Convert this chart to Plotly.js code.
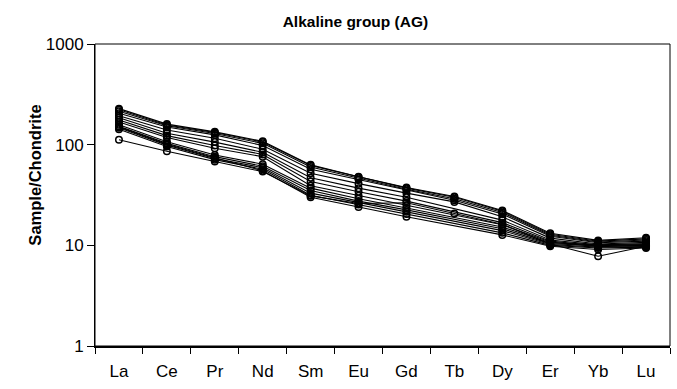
<!DOCTYPE html>
<html>
<head>
<meta charset="utf-8">
<script src="https://cdn.plot.ly/plotly-3.0.1.min.js"></script>
<style>
  html, body { margin: 0; padding: 0; background: #ffffff; }
  #chart { width: 677px; height: 389px; }
</style>
</head>
<body>
<div id="chart"></div>
<script>
// Rare earth elements, chondrite-normalised (null = not analysed)
const elements = ['La', 'Ce', 'Pr', 'Nd', 'Sm', 'Eu', 'Gd', 'Tb', 'Dy', 'Er', 'Yb', 'Lu'];

const ag01 = [228, 160, 134, 108, 63, 48, 37.5, 30.5, 22.2, 13.2, 11.2, 11.9];
const ag02 = [222, 157, 132, 106, 62, 47.5, 37, 30, 21.8, 12.9, 11.0, 11.6];
const ag03 = [215, 154, 129, 103, 60, 46.5, 36, 29, 21.2, 12.6, 10.8, 11.3];
const ag04 = [205, 150, 125, 98, 57, 45, 35, 28, 20.5, 12.3, 10.6, 11.0];
const ag05 = [194, 140, 116, 90, 52, 41, 33, 27, 19.2, 11.8, 10.3, 10.7];
const ag06 = [185, 130, 106, 84, 47, 37, 30, null, 17.8, 11.3, 10.1, 10.4];
const ag07 = [176, 123, 98, 80, 43, 34, 27.5, null, 16.8, 11.0, 9.9, 10.2];
const ag08 = [168, 118, 92, 76, 39, 31, 25, null, 16.0, 10.8, 9.7, 10.0];
const ag09 = [158, 107, 79, 64, 37, 29, 23.5, null, 15.2, 10.6, 10.1, 10.1];
const ag10 = [152, 103, 76, 61, 35, 27.5, 22.5, null, 14.6, 10.4, 9.9, 9.9];
const ag11 = [147, 99, 73, 59, 33, 26.5, 21.5, null, 14.0, 10.2, 9.6, 9.7];
const ag12 = [142, 96, 71, 57, 31.5, 25.5, 20.5, null, 13.3, 10.0, 9.4, 9.6];
const ag13 = [150, 101, 74, 55, 30, 24, 19.2, null, 12.7, 9.8, 9.1, 9.4];
const ag14 = [112, 86, 68, 54, 31, 26, 26.5, 20.7, 16.2, 10.3, 7.8, 9.8];

const samples = [ag01, ag02, ag03, ag04, ag05, ag06, ag07, ag08, ag09, ag10, ag11, ag12, ag13, ag14];

const sans = '"Liberation Sans", Arial, sans-serif';

const traces = samples.map(values => ({
  type: 'scatter',
  mode: 'lines+markers',
  x: elements,
  y: values,
  connectgaps: true,
  line: { color: '#000000', width: 1.1 },
  marker: { symbol: 'circle-open', size: 6.5, color: '#000000', line: { color: '#000000', width: 1.5 } },
  showlegend: false,
  hoverinfo: 'skip'
}));

const layout = {
  width: 677,
  height: 389,
  margin: { l: 95, r: 7, t: 44, b: 43 },
  paper_bgcolor: '#ffffff',
  plot_bgcolor: '#ffffff',
  font: { family: sans, color: '#000000', size: 17 },
  title: {
    text: '<b>Alkaline group (AG)</b>',
    font: { family: sans, size: 15.5, color: '#000000' },
    x: 0.525, xanchor: 'center',
    y: 1 - 22 / 389, yanchor: 'middle'
  },
  xaxis: {
    type: 'category',
    categoryorder: 'array',
    categoryarray: elements,
    range: [-0.5, elements.length - 0.5],
    tickson: 'boundaries',
    ticks: 'outside',
    ticklen: 6,
    tickwidth: 1,
    tickcolor: '#000000',
    ticklabelstandoff: 9,
    showline: true,
    linecolor: '#000000',
    linewidth: 2,
    showgrid: false,
    zeroline: false,
    tickfont: { family: sans, size: 17, color: '#000000' }
  },
  yaxis: {
    type: 'log',
    range: [0, 3],
    tickvals: [1, 10, 100, 1000],
    ticktext: ['1', '10', '100', '1000'],
    ticks: 'outside',
    ticklen: 7,
    tickwidth: 1,
    tickcolor: '#000000',
    showline: true,
    linecolor: '#000000',
    linewidth: 1,
    showgrid: false,
    zeroline: false,
    tickfont: { family: sans, size: 17, color: '#000000' }
  },
  shapes: [{
    type: 'rect', xref: 'x domain', yref: 'y domain',
    x0: 0, x1: 1, y0: 0, y1: 1,
    line: { color: '#000000', width: 1 }, layer: 'below'
  }],
  annotations: [{
    text: '<b>Sample/Chondrite</b>',
    xref: 'paper', yref: 'paper',
    x: -0.105, y: 0.5 + 20 / 302,
    xanchor: 'center', yanchor: 'middle',
    textangle: -90, showarrow: false,
    font: { family: sans, size: 16.5, color: '#000000' }
  }]
};

Plotly.newPlot('chart', traces, layout, { displayModeBar: false, staticPlot: true });
</script>
</body>
</html>
